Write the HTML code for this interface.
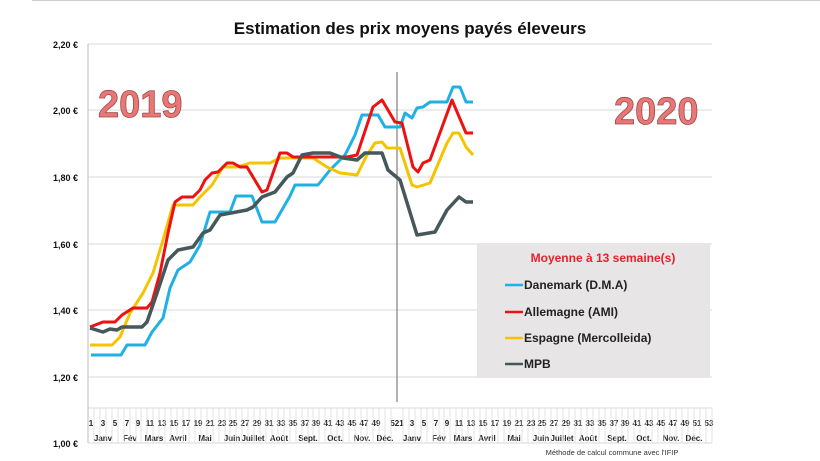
<!DOCTYPE html>
<html><head><meta charset="utf-8"><style>
body{margin:0;background:#fff}
svg{display:block;font-family:"Liberation Sans",sans-serif}
</style></head><body>
<svg width="820" height="461" viewBox="0 0 820 461" xmlns="http://www.w3.org/2000/svg">
<line x1="32" y1="0.5" x2="820" y2="0.5" stroke="#ccc"/>
<text x="410" y="34" text-anchor="middle" font-size="17" font-weight="bold" fill="#111">Estimation des prix moyens payés éleveurs</text>
<g stroke="#d9d9d9" stroke-width="1">
<line x1="88" y1="44" x2="712" y2="44"/><line x1="88" y1="110" x2="712" y2="110"/>
<line x1="88" y1="177" x2="712" y2="177"/><line x1="88" y1="244" x2="712" y2="244"/>
<line x1="88" y1="310" x2="712" y2="310"/><line x1="88" y1="377" x2="712" y2="377"/>
<line x1="88" y1="408" x2="712" y2="408"/><line x1="88" y1="443" x2="712" y2="443"/>
</g>
<line x1="88" y1="44" x2="88" y2="443" stroke="#bbb"/>
<g stroke="#ddd" stroke-width="0.8" id="ticks"></g>
<g font-size="9" font-weight="bold" fill="#111" text-anchor="end">
<text x="78" y="48">2,20 €</text><text x="78" y="114">2,00 €</text><text x="78" y="181">1,80 €</text>
<text x="78" y="248">1,60 €</text><text x="78" y="314">1,40 €</text><text x="78" y="381">1,20 €</text>
<text x="78" y="447">1,00 €</text>
</g>
<text x="98" y="117" font-size="38" font-weight="bold" fill="#e87878" stroke="#a04848" stroke-width="0.8">2019</text>
<text x="614" y="124" font-size="38" font-weight="bold" fill="#e87878" stroke="#a04848" stroke-width="0.8">2020</text>
<line x1="397" y1="72" x2="397" y2="402" stroke="#666" stroke-width="1"/>
<g fill="none" stroke-width="3" stroke-linejoin="round">
<polyline stroke="#1fb0e6" points="91,355 121,355 127,345 145,345 152,332 163,318 170,288 178,270 190,262 200,245 210,212 230,212 236,196 252,196 262,222 275,222 290,196 295,185 318,185 330,170 345,155 355,135 362,115 378,115 385,127 400,127 405,113 412,118 417,108 423,107 430,102 447,102 453,87 460,87 466,102 473,102"/>
<polyline stroke="#f5c400" points="90,345 112,345 120,337 130,313 143,293 153,273 163,240 173,205 193,205 200,197 212,185 223,167 237,167 250,163 270,163 280,158 313,158 327,167 340,173 357,175 367,155 375,143 382,142 387,148 400,148 412,185 417,187 430,183 447,143 453,133 459,133 466,147 473,155"/>
<polyline stroke="#ee1111" points="90,327 103,322 115,322 122,315 133,308 147,308 152,302 160,273 168,233 175,202 182,197 193,197 200,190 205,180 212,173 218,172 227,163 233,163 240,167 247,167 253,177 262,192 267,190 273,173 280,153 287,153 293,157 347,157 357,155 373,107 382,100 388,110 395,122 402,123 413,167 418,172 423,163 430,160 452,100 466,133 473,133"/>
<polyline stroke="#46585a" stroke-width="3.5" points="90,328 103,332 110,329 117,330 122,327 142,327 147,322 157,293 168,260 178,250 193,247 203,233 210,230 220,215 247,210 253,207 262,197 275,192 287,177 293,173 302,155 313,153 330,153 343,158 357,160 365,153 382,153 388,170 400,180 417,235 435,232 447,210 459,197 466,202 473,202"/>
</g>
<rect x="477" y="243" width="233" height="135" fill="#e7e5e5"/>
<text x="603" y="262" text-anchor="middle" font-size="12" font-weight="bold" fill="#e8202a">Moyenne à  13 semaine(s)</text>
<g stroke-width="2.5"><line x1="505" y1="285" x2="523" y2="285" stroke="#1fb0e6"/>
<line x1="505" y1="312" x2="523" y2="312" stroke="#ee1111"/>
<line x1="505" y1="338" x2="523" y2="338" stroke="#f5c400"/>
<line x1="505" y1="364" x2="523" y2="364" stroke="#46585a"/></g>
<g font-size="12" font-weight="bold" fill="#222">
<text x="524" y="289">Danemark (D.M.A)</text><text x="524" y="316">Allemagne (AMI)</text>
<text x="524" y="342">Espagne (Mercolleida)</text><text x="524" y="368">MPB</text></g>
<g font-size="8" font-weight="bold" fill="#222" text-anchor="middle">
<text x="91" y="426">1</text><text x="103" y="426">3</text><text x="115" y="426">5</text><text x="127" y="426">7</text><text x="138" y="426">9</text><text x="150" y="426">11</text><text x="162" y="426">13</text><text x="174" y="426">15</text><text x="186" y="426">17</text><text x="198" y="426">19</text><text x="210" y="426">21</text><text x="222" y="426">23</text><text x="233" y="426">25</text><text x="245" y="426">27</text><text x="257" y="426">29</text><text x="269" y="426">31</text><text x="281" y="426">33</text><text x="293" y="426">35</text><text x="305" y="426">37</text><text x="316" y="426">39</text><text x="328" y="426">41</text><text x="340" y="426">43</text><text x="352" y="426">45</text><text x="364" y="426">47</text><text x="376" y="426">49</text><text x="397" y="426">521</text>
<text x="412" y="426">3</text><text x="424" y="426">5</text><text x="436" y="426">7</text><text x="447" y="426">9</text><text x="459" y="426">11</text><text x="471" y="426">13</text><text x="483" y="426">15</text><text x="495" y="426">17</text><text x="507" y="426">19</text><text x="519" y="426">21</text><text x="531" y="426">23</text><text x="542" y="426">25</text><text x="554" y="426">27</text><text x="566" y="426">29</text><text x="578" y="426">31</text><text x="590" y="426">33</text><text x="602" y="426">35</text><text x="614" y="426">37</text><text x="625" y="426">39</text><text x="637" y="426">41</text><text x="649" y="426">43</text><text x="661" y="426">45</text><text x="673" y="426">47</text><text x="685" y="426">49</text><text x="697" y="426">51</text><text x="709" y="426">53</text>
<text x="103" y="441">Janv</text><text x="130" y="441">Fév</text><text x="154" y="441">Mars</text><text x="178" y="441">Avril</text><text x="205" y="441">Mai</text><text x="232" y="441">Juin</text><text x="253" y="441">Juillet</text><text x="279" y="441">Août</text><text x="308" y="441">Sept.</text><text x="335" y="441">Oct.</text><text x="362" y="441">Nov.</text><text x="385" y="441">Déc.</text>
<text x="412" y="441">Janv</text><text x="439" y="441">Fév</text><text x="463" y="441">Mars</text><text x="487" y="441">Avril</text><text x="514" y="441">Mai</text><text x="541" y="441">Juin</text><text x="562" y="441">Juillet</text><text x="588" y="441">Août</text><text x="617" y="441">Sept.</text><text x="644" y="441">Oct.</text><text x="671" y="441">Nov.</text><text x="694" y="441">Déc.</text>
</g>
<text x="612" y="455" text-anchor="middle" font-size="7.5" fill="#333">Méthode de calcul commune avec l'IFIP</text>
<g stroke="#ddd" stroke-width="0.8">
<path d="M94,408V443M100,408V443M106,408V443M112,408V443M118,408V443M124,408V443M130,408V443M136,408V443M141,408V443M147,408V443M153,408V443M159,408V443M165,408V443M171,408V443M177,408V443M183,408V443M189,408V443M195,408V443M201,408V443M207,408V443M213,408V443M219,408V443M225,408V443M230,408V443M236,408V443M242,408V443M248,408V443M254,408V443M260,408V443M266,408V443M272,408V443M278,408V443M284,408V443M290,408V443M296,408V443M302,408V443M308,408V443M313,408V443M319,408V443M325,408V443M331,408V443M337,408V443M343,408V443M349,408V443M355,408V443M361,408V443M367,408V443M373,408V443M379,408V443M385,408V443M391,408V443M403,408V443M409,408V443M415,408V443M421,408V443M427,408V443M433,408V443M439,408V443M444,408V443M450,408V443M456,408V443M462,408V443M468,408V443M474,408V443M480,408V443M486,408V443M492,408V443M498,408V443M504,408V443M510,408V443M516,408V443M522,408V443M528,408V443M533,408V443M539,408V443M545,408V443M551,408V443M557,408V443M563,408V443M569,408V443M575,408V443M581,408V443M587,408V443M593,408V443M599,408V443M605,408V443M611,408V443M616,408V443M622,408V443M628,408V443M634,408V443M640,408V443M646,408V443M652,408V443M658,408V443M664,408V443M670,408V443M676,408V443M682,408V443M688,408V443M694,408V443M700,408V443M706,408V443M712,408V443"/>
</g>
</svg>
</body></html>
